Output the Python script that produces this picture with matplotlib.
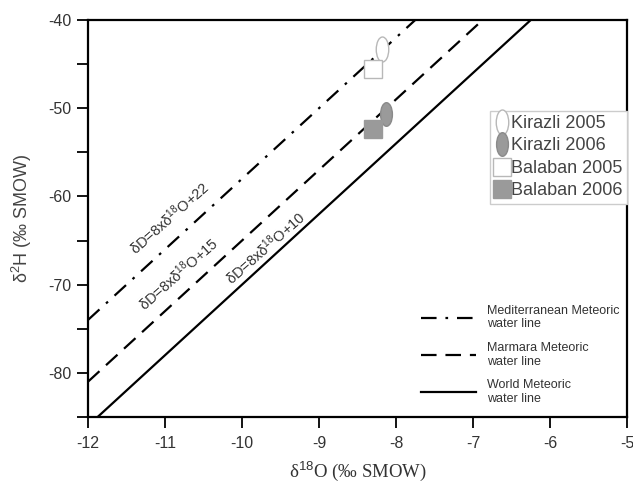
import numpy as np
import matplotlib
matplotlib.use("Agg")
from matplotlib import pyplot as plt
from matplotlib.path import Path
from matplotlib.transforms import Affine2D

plt.rcParams['font.family'] = ['Liberation Sans', 'DejaVu Sans']
plt.rcParams['axes.unicode_minus'] = False
plt.rcParams['mathtext.fontset'] = 'custom'
plt.rcParams['mathtext.rm'] = 'Liberation Sans'
plt.rcParams['mathtext.it'] = 'Liberation Sans:italic'

# meteoric water lines: dD = 8 * d18O + intercept
line_names = ["Mediterranean Meteoric\nwater line", "Marmara Meteoric\nwater line", "World Meteoric\nwater line"]
line_intercepts = [22, 15, 10]
line_styles = [(0, (7, 4, 1.2, 4)), (0, (7, 4)), '-']
line_labels = ["δD=8xδ$^{18}$O+22", "δD=8xδ$^{18}$O+15", "δD=8xδ$^{18}$O+10"]
label_x = [-10.94, -10.82, -9.70]
label_gap = [20, 18, 11.5]  # points above the line

# samples
sample_names = ["Kirazli 2005", "Kirazli 2006", "Balaban 2005", "Balaban 2006"]
sample_d18O = [-8.18, -8.13, -8.30, -8.30]
sample_d2H = [-43.3, -50.6, -45.5, -52.4]

ellipse = Path.unit_circle().transformed(Affine2D().scale(0.5, 1.0))
sample_markers = [ellipse, ellipse, 's', 's']
sample_faces = ['white', '#9a9a9a', 'white', '#9a9a9a']
sample_edges = ['#b8b8b8', '#8a8a8a', '#b8b8b8', '#9a9a9a']
sample_sizes = [18, 17, 12.5, 12.5]

fig = plt.figure(figsize=(6.33, 4.88), dpi=100)
ax = fig.add_axes([0.139, 0.1455, 0.8515, 0.8135])

xs = np.array([-12, -5])
handles = []
for b, ls, nm in zip(line_intercepts, line_styles, line_names):
    h, = ax.plot(xs, 8 * xs + b, color='black', linestyle=ls, linewidth=1.6, label=nm)
    handles.append(h)

# rotated equations along the lines
for b, lab, lx, g in zip(line_intercepts, line_labels, label_x, label_gap):
    ax.annotate(lab, xy=(lx, 8 * lx + b), xytext=(0, g), textcoords='offset points',
                rotation=41.5, rotation_mode='anchor', ha='center', va='center',
                fontsize=10.5, color='#333333')

pts = []
for x, y, m, fc, ec, s, nm in zip(sample_d18O, sample_d2H, sample_markers, sample_faces,
                                  sample_edges, sample_sizes, sample_names):
    p, = ax.plot([x], [y], linestyle='none', marker=m, markersize=s,
                 markerfacecolor=fc, markeredgecolor=ec, markeredgewidth=1, label=nm, zorder=5)
    pts.append(p)

ax.set_xlim(-12, -5)
ax.set_ylim(-85, -40)
ax.set_xticks(np.arange(-12, -4, 1))
ax.set_yticks(np.arange(-80, -39, 10))
ax.set_yticks(np.arange(-85, -39, 5), minor=True)
ax.tick_params(axis='both', which='both', direction='out', length=8, width=1.3,
               labelsize=11.5, labelcolor='#333333', pad=4)
ax.tick_params(axis='x', pad=6)
for sp in ax.spines.values():
    sp.set_linewidth(1.6)

ax.set_ylabel("δ$^{2}$H (‰ SMOW)", fontsize=13, color='#444444', labelpad=10)
ax.set_xlabel("δ$^{18}$O (‰ SMOW)", fontsize=13.5, color='#333333', labelpad=6,
              family=['Liberation Serif', 'DejaVu Serif'])

leg1 = ax.legend(handles=pts, loc='upper right', bbox_to_anchor=(1.0, 0.772), fontsize=13,
                 frameon=True, fancybox=False, edgecolor='#cccccc', framealpha=1,
                 handlelength=0.8, handletextpad=0.1, labelspacing=0.3, borderpad=0.25,
                 borderaxespad=0, labelcolor='#444444')
leg1.get_frame().set_linewidth(1.0)
ax.add_artist(leg1)

leg2 = ax.legend(handles=handles, loc='upper left', bbox_to_anchor=(0.617, 0.283), fontsize=9,
                 frameon=False, handlelength=4.4, handletextpad=0.9, labelspacing=0.92,
                 borderaxespad=0, borderpad=0, labelcolor='#333333')

fig.savefig("out.png", dpi=100)
